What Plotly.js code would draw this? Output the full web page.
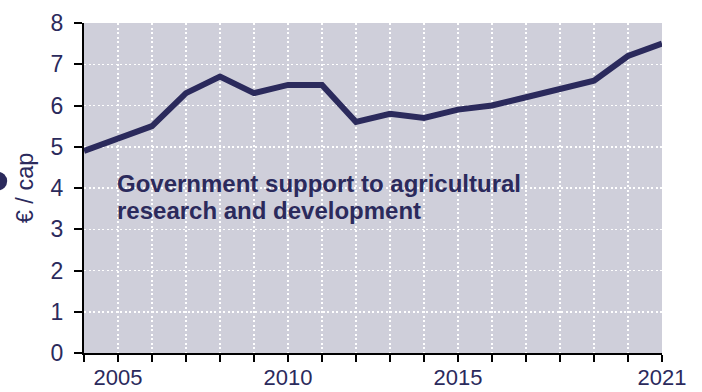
<!DOCTYPE html>
<html>
<head>
<meta charset="utf-8">
<script src="https://cdn.plot.ly/plotly-3.0.1.min.js"></script>
<style>html,body{margin:0;padding:0;background:#fff;}#chart{width:702px;height:392px;}</style>
</head>
<body>
<div id="chart"></div>
<script>
const years = [2004,2005,2006,2007,2008,2009,2010,2011,2012,2013,2014,2015,2016,2017,2018,2019,2020,2021];
const values = [4.9,5.2,5.5,6.3,6.7,6.3,6.5,6.5,5.6,5.8,5.7,5.9,6.0,6.2,6.4,6.6,7.2,7.5];
const xTickLabels = ["","2005","","","","","2010","","","","","2015","","","","","","2021"];
const yTicks = [0,1,2,3,4,5,6,7,8];
const labelLines = ["Government support to agricultural", "research and development"];
const yTitle = "€ / cap";

const navy = "#2b2a5c";
const font = "Liberation Sans, Arial, sans-serif";

const trace = {
  x: years, y: values, type: "scatter", mode: "lines",
  line: {color: navy, width: 6},
  hoverinfo: "skip", showlegend: false
};

const layout = {
  width: 702, height: 392,
  margin: {l: 84, r: 40, t: 23, b: 39, pad: 0},
  paper_bgcolor: "#ffffff",
  plot_bgcolor: "#cfcfda",
  font: {family: font, color: navy, size: 22},
  xaxis: {
    range: [2004, 2021],
    tickmode: "array", tickvals: years, ticktext: xTickLabels,
    ticks: "outside", ticklen: 7, tickwidth: 2, tickcolor: "#000",
    ticklabelstandoff: -3,
    showline: true, linecolor: "#000", linewidth: 2,
    showgrid: true, gridcolor: "#ffffff", gridwidth: 1.5, griddash: "2px,2.5px",
    zeroline: false, fixedrange: true,
    tickfont: {family: font, size: 22, color: navy}
  },
  yaxis: {
    range: [0, 8],
    tickmode: "array", tickvals: yTicks,
    ticks: "outside", ticklen: 8, tickwidth: 2, tickcolor: "#000",
    ticklabelstandoff: 6,
    showline: true, linecolor: "#000", linewidth: 2,
    showgrid: true, gridcolor: "#ffffff", gridwidth: 1.5, griddash: "2px,2.5px",
    zeroline: false, fixedrange: true,
    tickfont: {family: font, size: 23, color: navy},
    title: {text: yTitle, font: {family: font, size: 23.5, color: navy}, standoff: 10}
  },
  annotations: [
    {
      x: 2004.9, y: 4.12, xref: "x", yref: "y",
      text: "<b>" + labelLines[0] + "</b>",
      showarrow: false, xanchor: "left", yanchor: "middle", align: "left",
      font: {family: font, size: 24, color: navy}
    },
    {
      x: 2004.9, y: 3.46, xref: "x", yref: "y",
      text: "<b>" + labelLines[1] + "</b>",
      showarrow: false, xanchor: "left", yanchor: "middle", align: "left",
      font: {family: font, size: 24, color: navy}
    }
  ],
  shapes: [{
    type: "circle", xref: "paper", yref: "paper",
    xsizemode: "pixel", ysizemode: "pixel",
    xanchor: -0.149, yanchor: 0.521,
    x0: -9.3, x1: 9.3, y0: -9.3, y1: 9.3,
    fillcolor: navy, line: {width: 0}, layer: "above"
  }]
};

Plotly.newPlot("chart", [trace], layout, {displayModeBar: false, staticPlot: true});
</script>
</body>
</html>
